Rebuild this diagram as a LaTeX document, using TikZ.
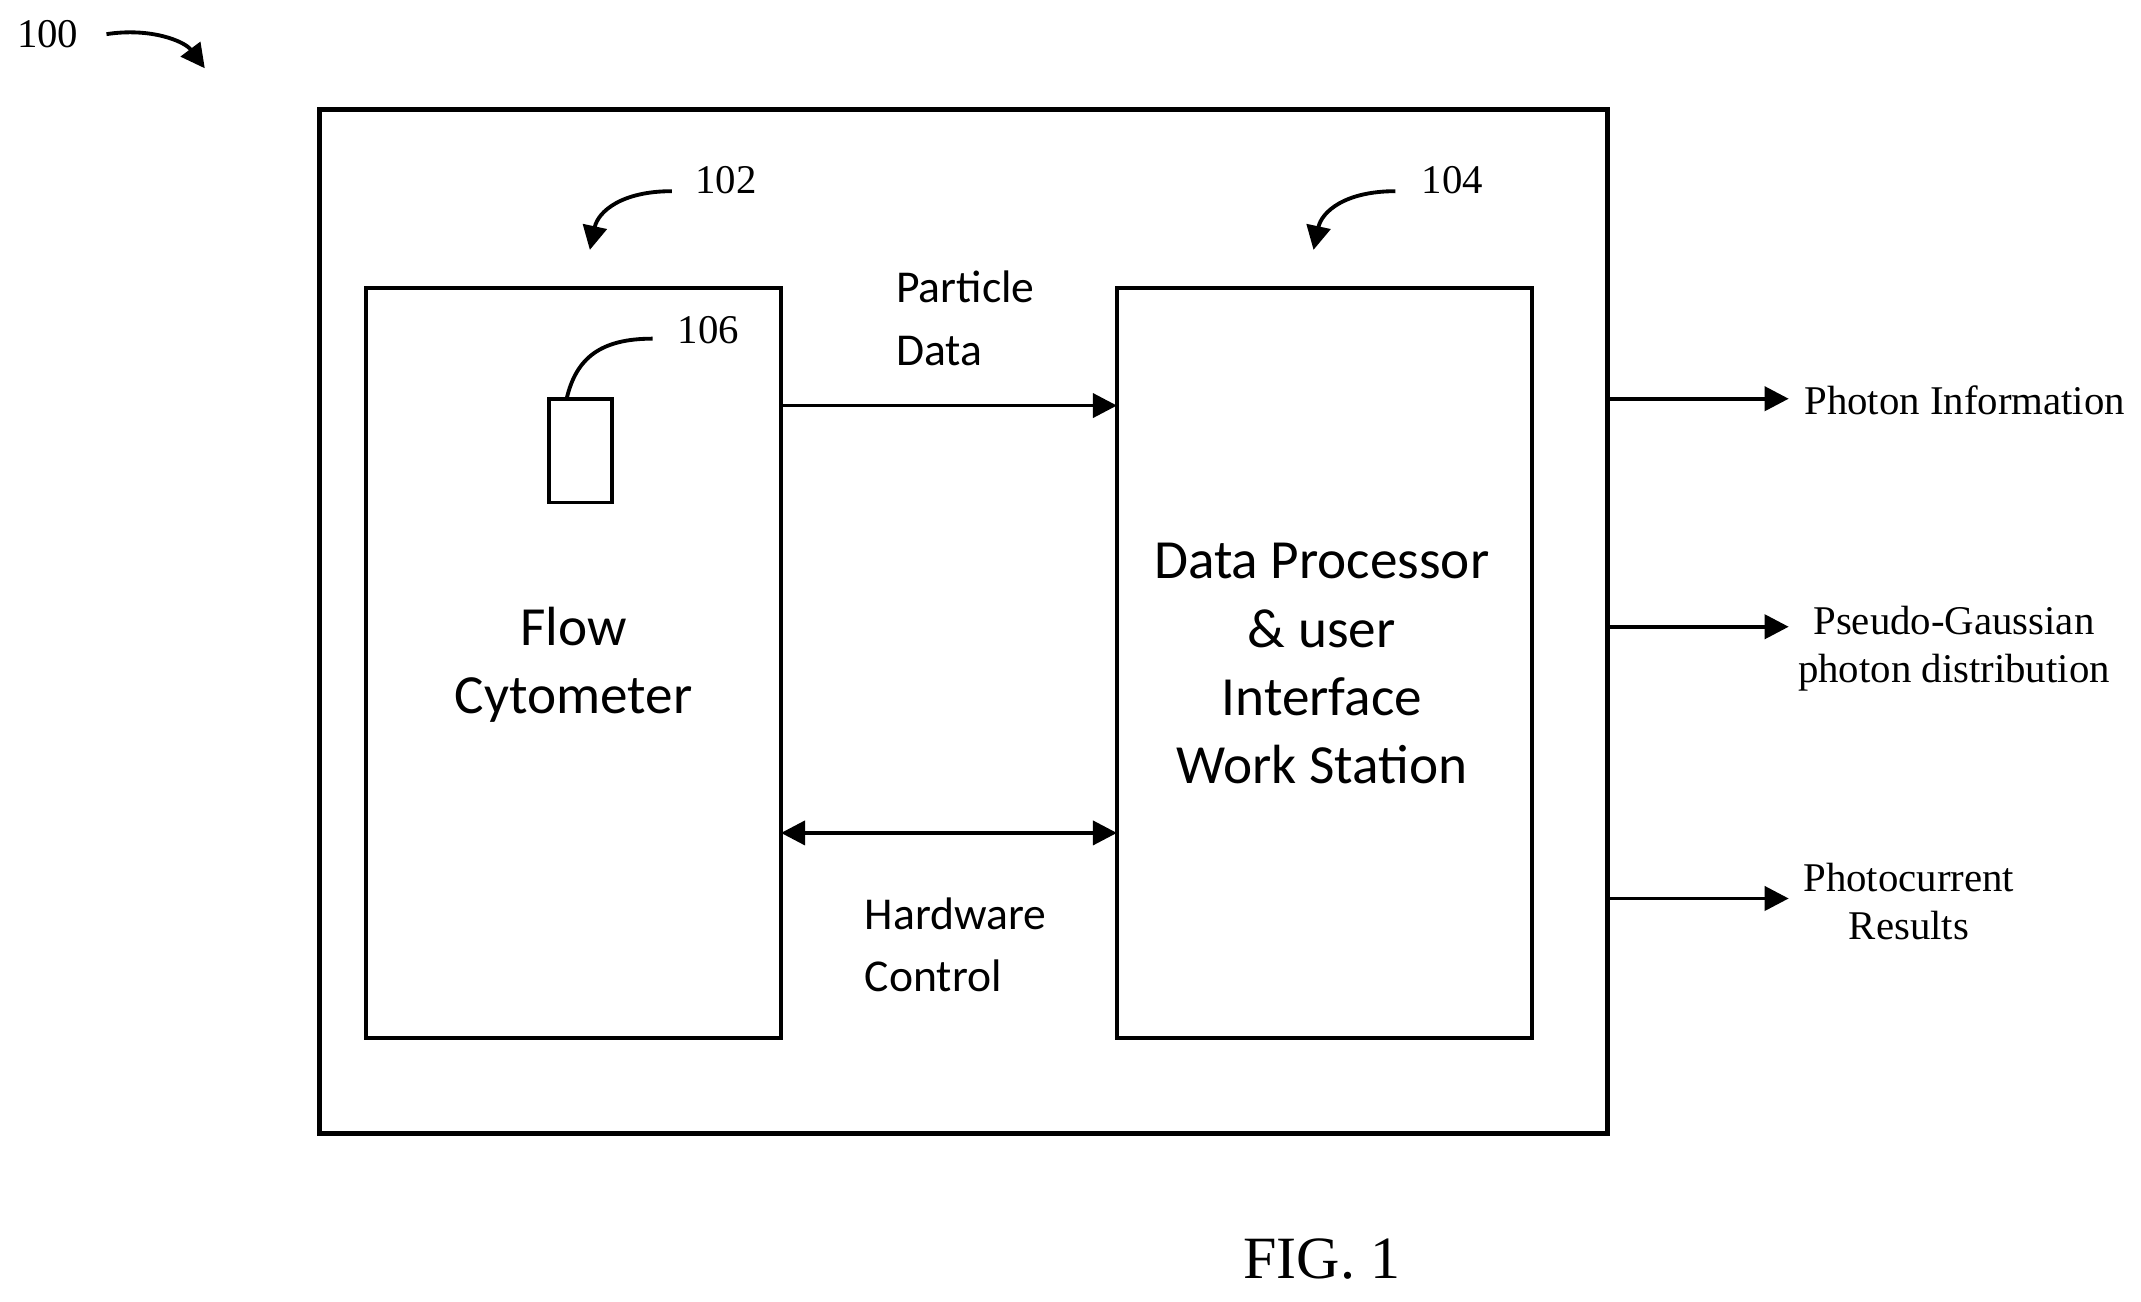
\documentclass[tikz,border=0pt]{standalone}
\usepackage{fontspec}
\setmainfont{Liberation Serif}
\newfontfamily\boxfont{Carlito}
\usetikzlibrary{arrows.meta}
\begin{document}
\begin{tikzpicture}[x=0.01cm,y=-0.01cm,
  box/.style={draw,line width=0.8pt},
  arr/.style={line width=0.8pt,-{Triangle[length=5pt,width=5pt]}},
  lab/.style={font=\fontsize{8.5}{10}\selectfont},
  sans/.style={font=\boxfont\fontsize{11.5}{14.2}\selectfont,align=center}]
\useasboundingbox (0,0) rectangle (1568,953);
\draw[box,line width=1pt] (234,80) rectangle (1177,830);
\draw[box] (268,211) rectangle (572,760);
\draw[box] (818,211) rectangle (1122,760);
\coordinate (L1) at (572,297); \coordinate (R1) at (818,297);
\coordinate (L2) at (572,610); \coordinate (R2) at (818,610);
\draw[box] (402,292) rectangle (448,368);
\coordinate (s) at (415,292);
\draw[line width=0.8pt] (s) .. controls (422,262) and (440,248) .. (478,248);
\node[lab,anchor=west] (n106) at (484,242) {106};
\node[lab,anchor=west] (n102) at (497,132) {102};
\node[lab,anchor=west] (n104) at (1029,132) {104};
\node[lab] (n100) at (35,25) {100};
\draw[arr] (492,140) .. controls (455,140) and (438,155) .. (432,183);
\draw[arr] (1022,140) .. controls (985,140) and (968,155) .. (962,183);
\draw[arr] (78,25) .. controls (110,20) and (135,30) .. (150,50);
\draw[arr] (L1) -- (R1);
\draw[arr,{Triangle[length=5pt,width=5pt]}-{Triangle[length=5pt,width=5pt]}] (L2) -- (R2);
\node[sans,font=\boxfont\fontsize{9.5}{13}\selectfont,align=left,anchor=north west] (pd) at (644,186) {Particle\\Data};
\node[sans,font=\boxfont\fontsize{9.5}{13}\selectfont,align=left,anchor=north west] (hc) at (621,645) {Hardware\\Control};
\node[sans] (flow) at (420,487) {Flow\\Cytometer};
\node[sans] (dp) at (968,486) {Data Processor\\\& user\\Interface\\Work Station};
\foreach \y/\n in {292/a,459/b,658/c}{
  \coordinate (o\n) at (1177,\y); \coordinate (e\n) at (1310,\y);
  \draw[arr] (o\n) -- (e\n);}
\node[lab,anchor=west] at (1309,293) {Photon Information};
\node[lab,align=center] at (1431,475) {Pseudo-Gaussian\\photon distribution};
\node[lab,align=center] at (1398,660) {Photocurrent\\Results};
\node[font=\fontsize{12.5}{14}\selectfont] at (968,922) {FIG. 1};
\end{tikzpicture}
\end{document}
